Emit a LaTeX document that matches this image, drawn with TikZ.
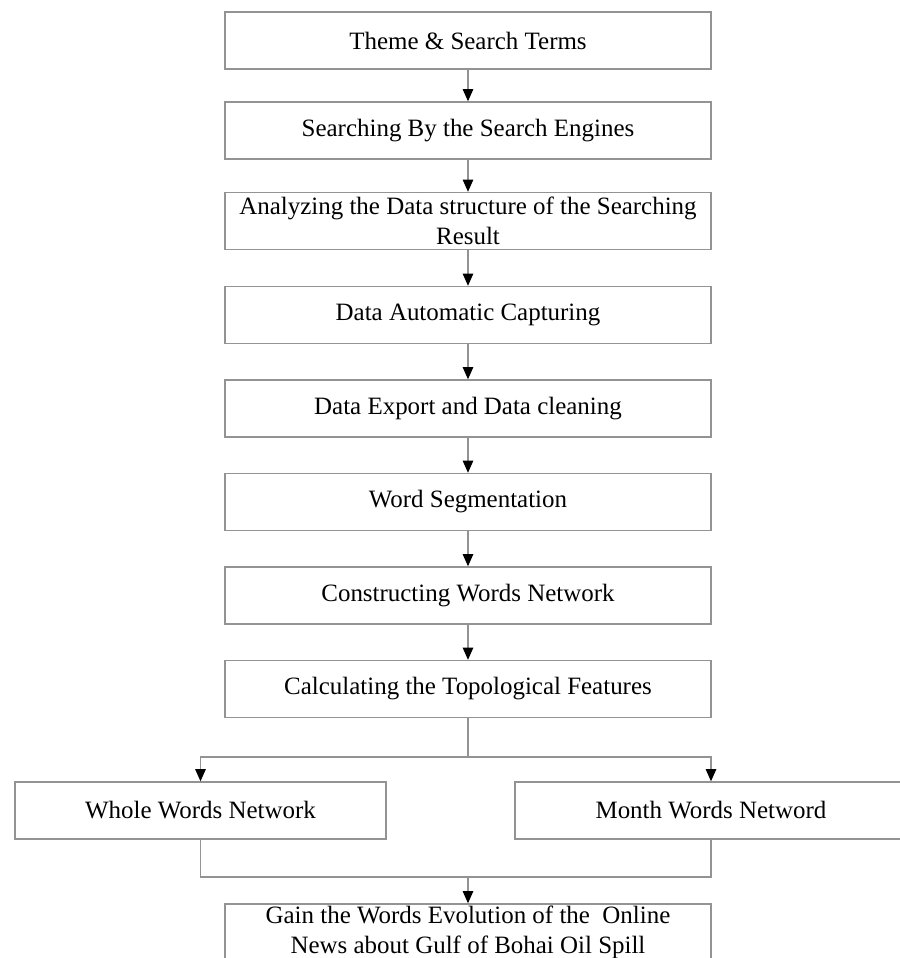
\documentclass[tikz,border=0pt]{standalone}
\usepackage{fontspec}
\setmainfont{Liberation Serif}
\usetikzlibrary{positioning, arrows.meta}

\begin{document}
\begin{tikzpicture}[x=0.02cm, y=-0.02cm,
    stepbox/.style={rectangle, draw=gray!85, line width=0.8pt,
      minimum width=9.72cm, minimum height=1.14cm, inner sep=0pt,
      align=center, font=\fontsize{14.2}{17}\selectfont},
    flow/.style={draw=gray!85, line width=0.8pt},
    flowarrow/.style={flow, -{Triangle[black, length=7pt, width=6pt]}}]

    \useasboundingbox (0,0) rectangle (900,958);

    % main column
    \node[stepbox] (theme) at (468,40.5) {Theme \& Search Terms};
    \node[stepbox] (search) at (468,130.5) {Searching By the Search Engines};
    \node[stepbox] (analyze) at (468,221)
      {Analyzing the Data structure of the Searching\\Result};
    \node[stepbox] (capture) at (468,315) {Data Automatic Capturing};
    \node[stepbox] (export) at (468,408.5) {Data Export and Data cleaning};
    \node[stepbox] (segment) at (468,502) {Word Segmentation};
    \node[stepbox] (construct) at (468,595.5) {Constructing Words Network};
    \node[stepbox] (calc) at (468,689) {Calculating the Topological Features};

    % two branches
    \node[stepbox, minimum width=7.42cm] (whole) at (200.5,810.5)
      {Whole Words Network};
    \node[stepbox, minimum width=7.84cm] (month) at (711,810.5)
      {Month Words Netword};

    \node[stepbox] (gain) at (468,932.5)
      {Gain the Words Evolution of the\ \ Online\\News about Gulf of Bohai Oil Spill};

    \coordinate (split) at (468,757);
    \coordinate (join) at (468,877);

    \draw[flowarrow] (theme) -- (search);
    \draw[flowarrow] (search) -- (analyze);
    \draw[flowarrow] (analyze) -- (capture);
    \draw[flowarrow] (capture) -- (export);
    \draw[flowarrow] (export) -- (segment);
    \draw[flowarrow] (segment) -- (construct);
    \draw[flowarrow] (construct) -- (calc);

    \draw[flow] (calc) -- (split);
    \draw[flowarrow] (split) -| (whole);
    \draw[flowarrow] (split) -| (month);

    \draw[flow] (whole) |- (join);
    \draw[flow] (month) |- (join);
    \draw[flowarrow] (join) -- (gain);
\end{tikzpicture}
\end{document}
